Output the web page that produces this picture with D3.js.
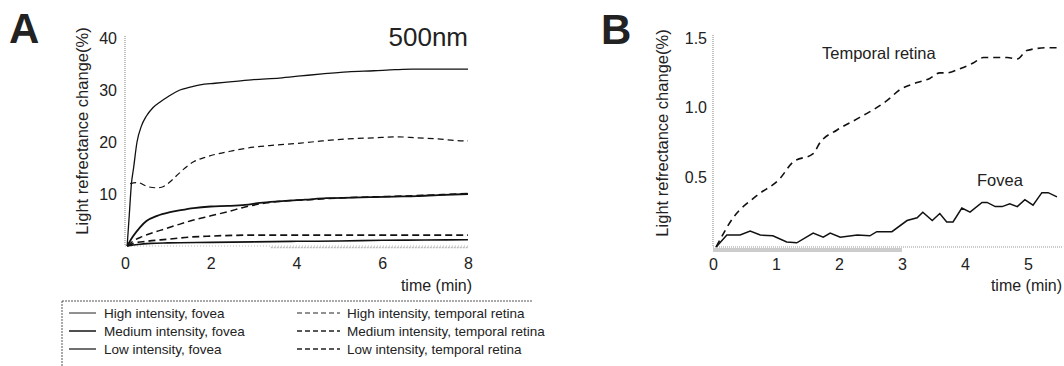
<!DOCTYPE html>
<html>
<head>
<meta charset="utf-8">
<script src="https://cdn.jsdelivr.net/npm/d3@7"></script>
<style>
  html, body { margin: 0; padding: 0; background: #fff; }
  svg { display: block; }
  text { font-family: "Liberation Sans", Arial, sans-serif; fill: #222; }
</style>
</head>
<body>
<svg id="chart" width="1064" height="366"></svg>
<script>
// ---------- Panel A data (500nm) ----------
const aTickX = [0, 2, 4, 6, 8];
const aTickY = [10, 20, 30, 40];

const highFoveaT = [0.05, 0.1, 0.15, 0.2, 0.28, 0.38, 0.5, 0.65, 0.82, 1.0, 1.28, 1.5, 1.75, 2.1, 2.5, 3.0, 3.6, 4.1, 4.6, 5.2, 5.8, 6.3, 6.7, 7.2, 7.6, 8.0];
const highFoveaV = [0, 6, 12, 15, 20, 23, 25, 26.6, 27.7, 28.7, 30, 30.5, 31, 31.3, 31.6, 32, 32.3, 32.7, 33.1, 33.5, 33.7, 33.9, 34, 34, 34, 34];

const highTempT = [0.12, 0.3, 0.5, 0.7, 0.85, 1.0, 1.2, 1.4, 1.6, 1.85, 2.1, 2.5, 3.0, 3.5, 4.1, 4.6, 5.2, 5.8, 6.35, 6.8, 7.3, 7.7, 8.0];
const highTempV = [12, 12.2, 11.5, 11.2, 11.3, 12, 13.5, 15, 16.2, 17, 17.6, 18.3, 19, 19.4, 19.8, 20.2, 20.6, 20.8, 21, 20.8, 20.6, 20.3, 20.2];

const medFoveaT = [0.05, 0.2, 0.35, 0.5, 0.75, 1.05, 1.3, 1.6, 2.0, 2.4, 2.8, 3.15, 3.6, 4.2, 4.7, 5.3, 5.8, 6.3, 6.8, 7.3, 8.0];
const medFoveaV = [0, 2, 3.6, 4.8, 5.8, 6.5, 6.9, 7.3, 7.6, 7.7, 7.9, 8.3, 8.6, 8.9, 9.2, 9.3, 9.4, 9.5, 9.6, 9.8, 10];

const medTempT = [0.05, 0.2, 0.4, 0.82, 1.2, 1.6, 2.0, 2.4, 2.8, 3.3, 3.8, 4.5, 5.2, 6.0, 6.8, 7.4, 8.0];
const medTempV = [0, 1, 1.8, 3, 4, 5, 5.8, 6.6, 7.5, 8.3, 8.7, 9.0, 9.3, 9.5, 9.7, 9.9, 10.1];

const lowTempT = [0.05, 0.2, 0.5, 1.0, 1.5, 2.0, 3.0, 4.0, 5.0, 6.0, 7.0, 8.0];
const lowTempV = [0, 0.5, 0.9, 1.3, 1.7, 1.9, 2.1, 2.1, 2.1, 2.1, 2.1, 2.1];

const lowFoveaT = [0.05, 0.3, 0.6, 1.0, 2.0, 3.0, 4.0, 5.0, 6.0, 7.0, 8.0];
const lowFoveaV = [0, 0.3, 0.5, 0.6, 0.7, 0.8, 0.9, 0.95, 1.1, 1.15, 1.2];

const legendLabels = [
  "High intensity, fovea", "Medium intensity, fovea", "Low intensity, fovea",
  "High intensity, temporal retina", "Medium intensity, temporal retina", "Low intensity, temporal retina"
];

// ---------- Panel B data ----------
const bTickX = [0, 1, 2, 3, 4, 5];
const bTickY = [0.5, 1.0, 1.5];

const tempT = [0.05, 0.32, 0.7, 1.06, 1.27, 1.59, 1.7, 1.97, 2.33, 2.76, 2.97, 3.24, 3.44, 3.6, 3.71, 3.92, 4.13, 4.29, 4.67, 4.83, 4.98, 5.3, 5.48];
const tempV = [0, 0.21, 0.37, 0.49, 0.61, 0.67, 0.75, 0.84, 0.93, 1.05, 1.13, 1.18, 1.21, 1.25, 1.25, 1.28, 1.32, 1.36, 1.36, 1.35, 1.41, 1.43, 1.43];

const foveaT = [0.05, 0.22, 0.43, 0.59, 0.75, 0.95, 1.17, 1.33, 1.59, 1.75, 1.86, 2.02, 2.29, 2.49, 2.6, 2.84, 3.08, 3.24, 3.33, 3.48, 3.6, 3.71, 3.81, 3.95, 4.08, 4.27, 4.35, 4.48, 4.59, 4.71, 4.83, 4.95, 5.08, 5.22, 5.32, 5.46];
const foveaV = [0, 0.086, 0.086, 0.115, 0.086, 0.08, 0.036, 0.03, 0.1, 0.07, 0.1, 0.07, 0.086, 0.08, 0.11, 0.11, 0.19, 0.21, 0.25, 0.19, 0.24, 0.18, 0.18, 0.28, 0.25, 0.32, 0.32, 0.29, 0.29, 0.31, 0.29, 0.34, 0.30, 0.39, 0.39, 0.36];

const zip = (t, v) => t.map((d, i) => [d, v[i]]);

const svg = d3.select("#chart");

// ================= Panel A =================
const xA = d3.scaleLinear().domain([0, 8]).range([125, 468]);
const yA = d3.scaleLinear().domain([0, 40]).range([246, 38]);

svg.append("line").attr("x1", xA(0)).attr("x2", xA(0)).attr("y1", yA(40) - 2).attr("y2", yA(0))
  .attr("stroke", "#999").attr("stroke-width", 1.2).attr("stroke-dasharray", "1,1");
svg.append("line").attr("x1", xA(0)).attr("x2", xA(8)).attr("y1", yA(0)).attr("y2", yA(0))
  .attr("stroke", "#bbb").attr("stroke-width", 1).attr("stroke-dasharray", "1,2");
svg.append("line").attr("x1", xA(3.4)).attr("x2", xA(8)).attr("y1", yA(0) + 1.5).attr("y2", yA(0) + 1.5)
  .attr("stroke", "#bbb").attr("stroke-width", 1.5).attr("stroke-dasharray", "2,1");

const axAx = d3.axisBottom(xA).tickValues(aTickX).tickSize(0).tickPadding(12).tickFormat(d3.format("d"));
const gAx = svg.append("g").attr("transform", `translate(0,${yA(0)})`).call(axAx);
gAx.select(".domain").remove();
gAx.selectAll("text").attr("font-size", 16).attr("fill", "#222").attr("font-family", "Liberation Sans, Arial, sans-serif");

const axAy = d3.axisLeft(yA).tickValues(aTickY).tickSize(0).tickPadding(8).tickFormat(d3.format("d"));
const gAy = svg.append("g").attr("transform", `translate(${xA(0)},0)`).call(axAy);
gAy.select(".domain").remove();
gAy.selectAll("text").attr("font-size", 16).attr("fill", "#222").attr("font-family", "Liberation Sans, Arial, sans-serif");

const lineA = d3.line().x(d => xA(d[0])).y(d => yA(d[1])).curve(d3.curveMonotoneX);

const aSeries = [
  { t: lowFoveaT, v: lowFoveaV, w: 1.6, dash: null },
  { t: lowTempT, v: lowTempV, w: 1.7, dash: "7,4" },
  { t: medTempT, v: medTempV, w: 1.5, dash: "7,4" },
  { t: medFoveaT, v: medFoveaV, w: 1.8, dash: null },
  { t: highTempT, v: highTempV, w: 1.2, dash: "6,4" },
  { t: highFoveaT, v: highFoveaV, w: 1.3, dash: null }
];
aSeries.forEach(s => {
  svg.append("path").datum(zip(s.t, s.v)).attr("d", lineA)
    .attr("fill", "none").attr("stroke", "#111").attr("stroke-width", s.w)
    .attr("stroke-dasharray", s.dash);
});

svg.append("text").attr("x", 472).attr("y", 291).attr("text-anchor", "end").attr("font-size", 16).text("time (min)");
svg.append("text").attr("x", 468).attr("y", 46).attr("text-anchor", "end").attr("font-size", 26).text("500nm");
svg.append("text").attr("x", 9).attr("y", 43).attr("font-size", 42).attr("font-weight", "bold").attr("fill", "#111").text("A");
svg.append("text").attr("transform", "translate(88,131) rotate(-90)").attr("text-anchor", "middle")
  .attr("font-size", 16.5).text("Light refrectance change(%)");

// Legend
const lg = svg.append("g");
lg.append("line").attr("x1", 62).attr("x2", 532).attr("y1", 301).attr("y2", 301)
  .attr("stroke", "#555").attr("stroke-width", 1).attr("stroke-dasharray", "2,1");
lg.append("line").attr("x1", 62).attr("x2", 62).attr("y1", 301).attr("y2", 366)
  .attr("stroke", "#555").attr("stroke-width", 1).attr("stroke-dasharray", "2,1");
const legRows = [313, 331, 349];
const legWidths = [1, 1.6, 1.3];
legendLabels.forEach((lab, i) => {
  const col = Math.floor(i / 3), row = i % 3;
  const y = legRows[row];
  const lx1 = col === 0 ? 69 : 297, lx2 = col === 0 ? 96 : 340, tx = col === 0 ? 104 : 347;
  lg.append("line").attr("x1", lx1).attr("x2", lx2).attr("y1", y).attr("y2", y)
    .attr("stroke", "#222").attr("stroke-width", legWidths[row])
    .attr("stroke-dasharray", col === 1 ? "5,3" : null);
  lg.append("text").attr("x", tx).attr("y", y + 4.5).attr("font-size", 13.5).attr("fill", "#333").text(lab);
});

// ================= Panel B =================
const xB = d3.scaleLinear().domain([0, 5]).range([713, 1028]);
const yB = d3.scaleLinear().domain([0, 1.5]).range([247, 38]);

svg.append("line").attr("x1", xB(0)).attr("x2", xB(0)).attr("y1", yB(1.5) - 3).attr("y2", yB(0))
  .attr("stroke", "#999").attr("stroke-width", 1.2).attr("stroke-dasharray", "1,1");
svg.append("line").attr("x1", xB(0)).attr("x2", 1062).attr("y1", yB(0)).attr("y2", yB(0))
  .attr("stroke", "#999").attr("stroke-width", 1).attr("stroke-dasharray", "1,1");
svg.append("rect").attr("x", xB(0)).attr("y", yB(0) + 1).attr("width", xB(3) - xB(0)).attr("height", 4)
  .attr("fill", "#ccc");

const axBx = d3.axisBottom(xB).tickValues(bTickX).tickSize(0).tickPadding(12).tickFormat(d3.format("d"));
const gBx = svg.append("g").attr("transform", `translate(0,${yB(0)})`).call(axBx);
gBx.select(".domain").remove();
gBx.selectAll("text").attr("font-size", 16).attr("fill", "#222").attr("font-family", "Liberation Sans, Arial, sans-serif");

const axBy = d3.axisLeft(yB).tickValues(bTickY).tickSize(0).tickPadding(6).tickFormat(d3.format(".1f"));
const gBy = svg.append("g").attr("transform", `translate(${xB(0)},0)`).call(axBy);
gBy.select(".domain").remove();
gBy.selectAll("text").attr("font-size", 16).attr("fill", "#222").attr("font-family", "Liberation Sans, Arial, sans-serif");

svg.append("path").datum(zip(tempT, tempV))
  .attr("d", d3.line().x(d => xB(d[0])).y(d => yB(d[1])).curve(d3.curveMonotoneX))
  .attr("fill", "none").attr("stroke", "#111").attr("stroke-width", 1.6).attr("stroke-dasharray", "7,5");
svg.append("path").datum(zip(foveaT, foveaV))
  .attr("d", d3.line().x(d => xB(d[0])).y(d => yB(d[1])))
  .attr("fill", "none").attr("stroke", "#111").attr("stroke-width", 1.5);

svg.append("text").attr("x", 822).attr("y", 59).attr("font-size", 16.5).text("Temporal retina");
svg.append("text").attr("x", 977).attr("y", 186).attr("font-size", 16.5).text("Fovea");
svg.append("text").attr("x", 1062).attr("y", 291).attr("text-anchor", "end").attr("font-size", 16).text("time (min)");
svg.append("text").attr("x", 601).attr("y", 44).attr("font-size", 42).attr("font-weight", "bold").attr("fill", "#111").text("B");
svg.append("text").attr("transform", "translate(668,133) rotate(-90)").attr("text-anchor", "middle")
  .attr("font-size", 16.5).text("Light refrectance change(%)");
</script>
</body>
</html>
